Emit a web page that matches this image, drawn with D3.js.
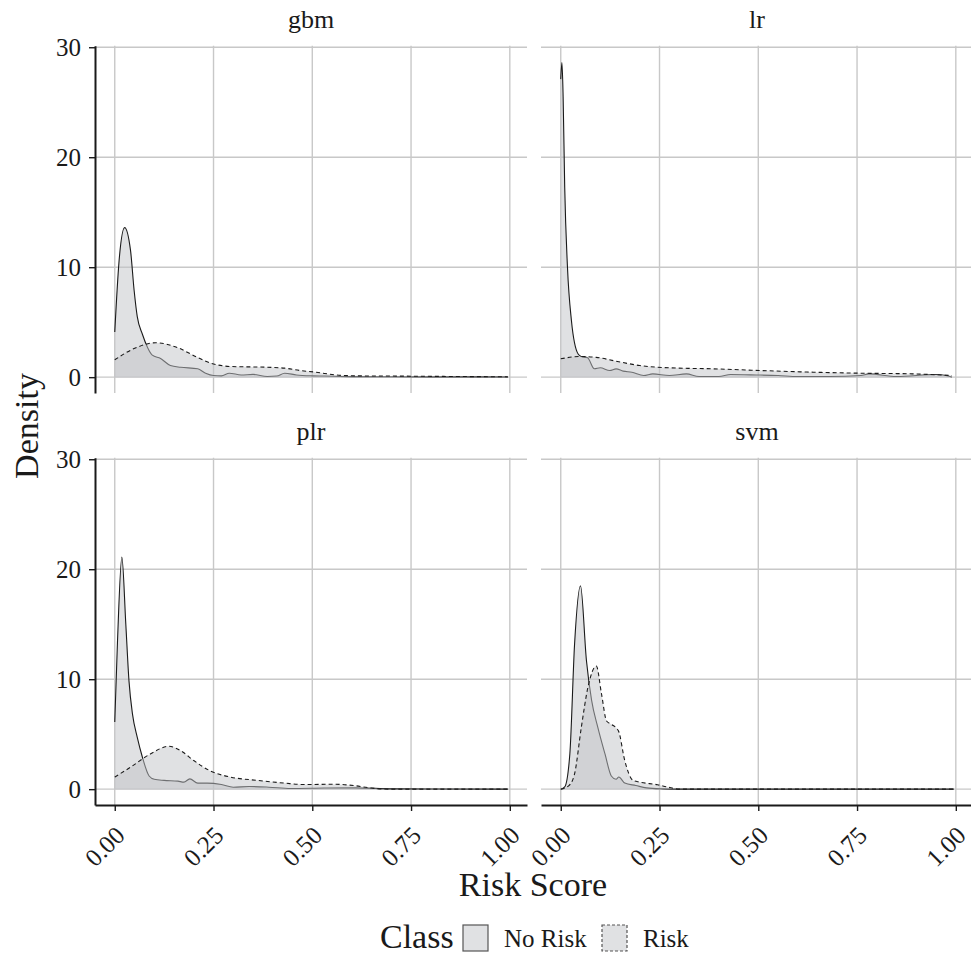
<!DOCTYPE html>
<html>
<head>
<meta charset="utf-8">
<script src="https://cdnjs.cloudflare.com/ajax/libs/d3/7.8.5/d3.min.js"></script>
<style>
  body { margin: 0; background: #fff; }
  text { font-family: "Liberation Serif", "DejaVu Serif", serif; fill: #1a1a1a; }
</style>
</head>
<body>
<div id="chart"></div>
<script>
// facet names and legend classes
const models = ["gbm", "lr", "plr", "svm"];
const classes = ["No Risk", "Risk"];
const xTicks = [0, 0.25, 0.5, 0.75, 1];
const yTicks = [0, 10, 20, 30];

// density curves: [risk score, density]
const gbmNoRisk = [[0,4.1],[0.011,10.6],[0.025,13.6],[0.04,11.5],[0.049,7.9],[0.057,5.5],[0.07,3.9],[0.083,2.7],[0.095,2.0],[0.116,1.7],[0.141,1.06],[0.167,0.9],[0.21,0.76],[0.23,0.36],[0.25,0.15],[0.27,0.12],[0.29,0.36],[0.32,0.2],[0.35,0.25],[0.386,0.06],[0.41,0.1],[0.43,0.36],[0.46,0.2],[0.5,0.12],[0.53,0.1],[0.6,0.05],[0.7,0.04],[0.8,0.03],[0.9,0.03],[0.995,0.02]];
const gbmRisk = [[0,1.58],[0.049,2.6],[0.104,3.13],[0.158,2.7],[0.209,1.8],[0.25,1.2],[0.293,0.97],[0.386,0.9],[0.43,0.82],[0.47,0.6],[0.51,0.45],[0.56,0.2],[0.61,0.12],[0.7,0.1],[0.78,0.08],[0.87,0.06],[0.995,0.03]];
const lrNoRisk = [[0,27.1],[0.003,28.6],[0.006,25.5],[0.010,17.3],[0.017,10.0],[0.027,5.15],[0.044,2.1],[0.052,1.88],[0.068,1.76],[0.085,0.76],[0.1,0.85],[0.124,0.6],[0.14,0.75],[0.158,0.55],[0.18,0.45],[0.21,0.15],[0.233,0.3],[0.275,0.15],[0.318,0.3],[0.35,0.06],[0.4,0.06],[0.43,0.24],[0.495,0.2],[0.55,0.15],[0.6,0.06],[0.68,0.06],[0.76,0.15],[0.78,0.3],[0.85,0.06],[0.95,0.24],[0.99,0.02]];
const lrRisk = [[0,1.67],[0.048,1.88],[0.09,1.8],[0.14,1.45],[0.2,1.06],[0.275,0.85],[0.385,0.76],[0.51,0.6],[0.64,0.45],[0.76,0.36],[0.89,0.3],[0.99,0.15]];
const plrNoRisk = [[0,6.1],[0.007,13.5],[0.018,21.1],[0.028,15],[0.036,9.85],[0.045,6.8],[0.057,4.7],[0.07,2.9],[0.087,1.2],[0.1,0.9],[0.125,0.8],[0.16,0.73],[0.175,0.64],[0.19,0.94],[0.21,0.55],[0.234,0.55],[0.27,0.42],[0.3,0.18],[0.34,0.24],[0.39,0.18],[0.445,0.06],[0.53,0.1],[0.61,0.12],[0.7,0.03],[0.8,0.01],[0.995,0]];
const plrRisk = [[0,1.1],[0.04,2.0],[0.09,3.2],[0.137,3.9],[0.167,3.5],[0.2,2.6],[0.243,1.64],[0.293,1.1],[0.36,0.8],[0.43,0.55],[0.48,0.42],[0.555,0.45],[0.605,0.33],[0.65,0.1],[0.7,0],[0.995,0]];
const svmNoRisk = [[0,0],[0.01,0.2],[0.023,3.2],[0.035,13.2],[0.05,18.5],[0.065,11.7],[0.078,8.1],[0.094,5.6],[0.112,3.2],[0.128,1.2],[0.14,0.9],[0.147,1.1],[0.162,0.55],[0.19,0.33],[0.217,0.12],[0.26,0.03],[0.3,0],[0.995,0]];
const svmRisk = [[0,0],[0.02,0.3],[0.035,1.4],[0.052,5.6],[0.069,9.3],[0.09,11.2],[0.103,8.7],[0.116,6.2],[0.128,5.9],[0.146,5.3],[0.162,2.6],[0.183,0.8],[0.2,0.64],[0.245,0.4],[0.27,0.2],[0.3,0],[0.995,0]];

const curves = {
  gbm: [gbmNoRisk, gbmRisk],
  lr: [lrNoRisk, lrRisk],
  plr: [plrNoRisk, plrRisk],
  svm: [svmNoRisk, svmRisk]
};

const width = 971, height = 954;
const panelW = 432;
const colX = [95, 541];
const rowTop = [45.7, 457.7];
const panelH = 347.3;

const svg = d3.select("#chart").append("svg")
  .attr("width", width)
  .attr("height", height);

const gridColor = "#c8c8c8";
const fillColor = "#c2c4c8";
const tickFont = "25px";

models.forEach((m, i) => {
  const col = i % 2, row = Math.floor(i / 2);
  const x = d3.scaleLinear().domain([-0.05, 1.0435]).range([colX[col], colX[col] + panelW]);
  const y = d3.scaleLinear().domain([-1.44, 30.14]).range([rowTop[row] + panelH, rowTop[row]]);
  const g = svg.append("g");

  // grid
  g.selectAll(".gx").data(xTicks).enter().append("line")
    .attr("x1", d => x(d)).attr("x2", d => x(d))
    .attr("y1", y.range()[0]).attr("y2", y.range()[1])
    .attr("stroke", gridColor).attr("stroke-width", 1.4);
  g.selectAll(".gy").data(yTicks).enter().append("line")
    .attr("x1", x.range()[0]).attr("x2", x.range()[1])
    .attr("y1", d => y(d)).attr("y2", d => y(d))
    .attr("stroke", gridColor).attr("stroke-width", 1.4);

  const area = d3.area().x(d => x(d[0])).y0(y(0)).y1(d => y(d[1])).curve(d3.curveMonotoneX);
  const line = d3.line().x(d => x(d[0])).y(d => y(d[1])).curve(d3.curveMonotoneX);

  curves[m].forEach((data, k) => {
    g.append("path").datum(data)
      .attr("d", area)
      .attr("fill", fillColor)
      .attr("fill-opacity", 0.5);
    g.append("path").datum(data)
      .attr("d", line)
      .attr("fill", "none")
      .attr("stroke", "#1a1a1a")
      .attr("stroke-width", 1.1)
      .attr("stroke-dasharray", k === 1 ? "4,3" : null);
  });

  // strip label
  svg.append("text")
    .attr("x", (x.range()[0] + x.range()[1]) / 2)
    .attr("y", rowTop[row] - 18)
    .attr("text-anchor", "middle")
    .style("font-size", "26px")
    .text(m);

  if (col === 0) {
    const ax = svg.append("g")
      .attr("transform", `translate(${colX[0]},0)`)
      .call(d3.axisLeft(y).tickValues(yTicks).tickSize(6).tickSizeOuter(0).tickPadding(8));
    ax.select(".domain").attr("stroke", "#1a1a1a").attr("stroke-width", 2);
    ax.selectAll(".tick line").attr("stroke", "#1a1a1a").attr("stroke-width", 1.4);
    ax.selectAll(".tick text").attr("font-family", null).style("font-size", tickFont).attr("fill", "#1a1a1a");
  }
  if (row === 1) {
    const ax = svg.append("g")
      .attr("transform", `translate(0,${rowTop[1] + panelH})`)
      .call(d3.axisBottom(x).tickValues(xTicks).tickFormat(d3.format(".2f")).tickSize(6).tickSizeOuter(0));
    ax.select(".domain").attr("stroke", "#1a1a1a").attr("stroke-width", 2);
    ax.selectAll(".tick line").attr("stroke", "#1a1a1a").attr("stroke-width", 1.4);
    ax.selectAll(".tick text")
      .attr("font-family", null)
      .style("font-size", tickFont)
      .attr("fill", "#1a1a1a")
      .attr("text-anchor", "end")
      .attr("dy", null)
      .attr("y", 0)
      .attr("transform", "translate(11,32) rotate(-45)");
  }
});

// axis titles
svg.append("text")
  .attr("x", 533).attr("y", 896)
  .attr("text-anchor", "middle")
  .style("font-size", "34px")
  .text("Risk Score");

svg.append("text")
  .attr("transform", "translate(38,426) rotate(-90)")
  .attr("text-anchor", "middle")
  .style("font-size", "34px")
  .text("Density");

// legend
const legend = svg.append("g");
legend.append("text").attr("x", 380).attr("y", 948).style("font-size", "34px").text("Class");
const keyX = [463, 602];
classes.forEach((c, k) => {
  legend.append("rect")
    .attr("x", keyX[k]).attr("y", 925)
    .attr("width", 25).attr("height", 26)
    .attr("fill", fillColor).attr("fill-opacity", 0.5)
    .attr("stroke", "#555")
    .attr("stroke-width", 1.2)
    .attr("stroke-dasharray", k === 1 ? "3,2" : null);
  legend.append("text")
    .attr("x", keyX[k] + 41).attr("y", 947)
    .style("font-size", "25px")
    .text(c);
});
</script>
</body>
</html>
